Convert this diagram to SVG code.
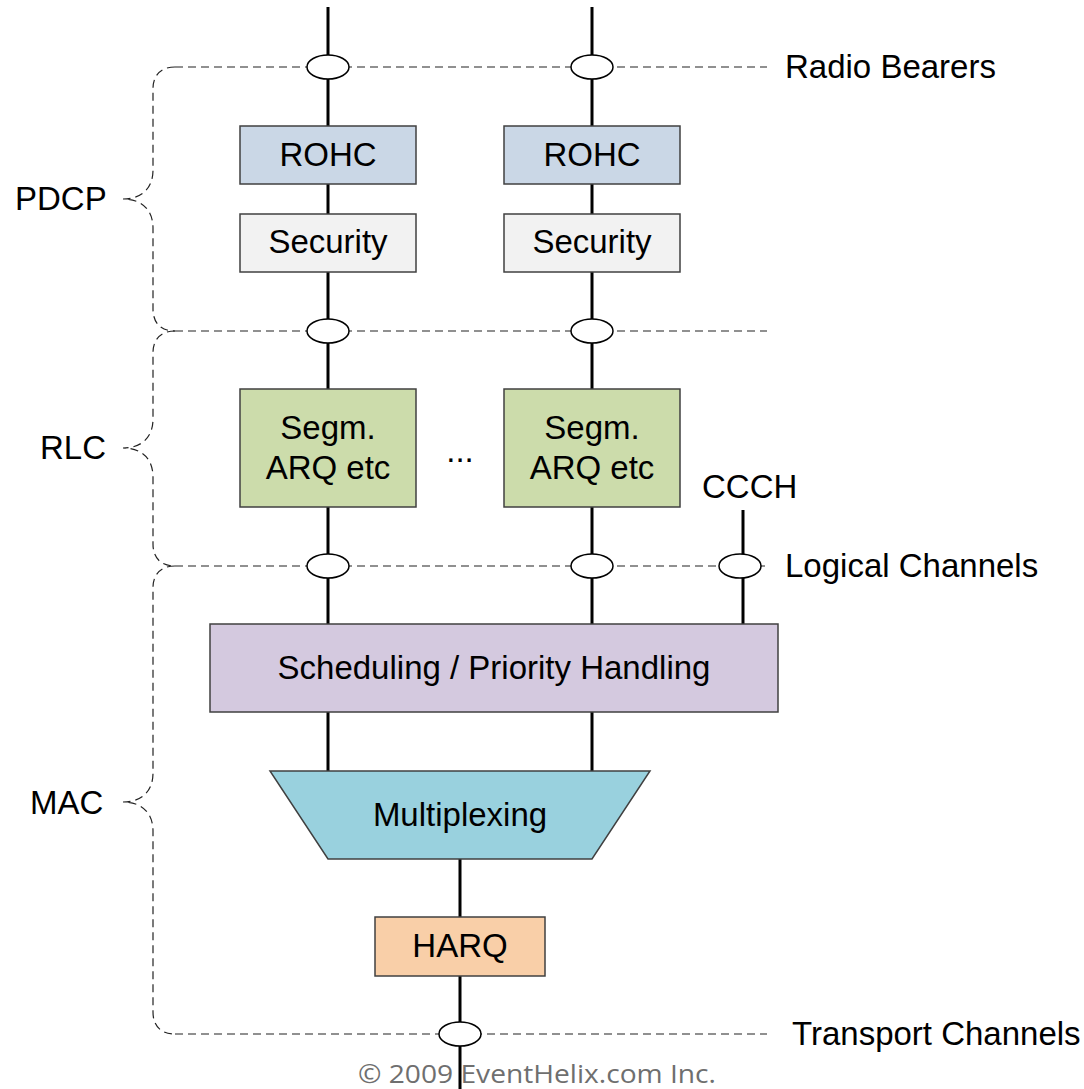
<svg xmlns="http://www.w3.org/2000/svg" width="1084" height="1089" viewBox="0 0 1084 1089">
<style>
.t{font-family:"Liberation Sans",Arial,sans-serif;font-size:33px;fill:#000}
.c{text-anchor:middle}
.box{stroke:#404040;stroke-width:1.5}
.v{stroke:#000;stroke-width:3;fill:none}
.d{stroke:#222;stroke-width:1.2;stroke-dasharray:8,5;fill:none}
.e{fill:#fff;stroke:#000;stroke-width:1.5}
</style>
<rect width="1084" height="1089" fill="#fff"/>
<g id="connectors">
<path class="v" d="M328 7V126M328 184V214M328 272V389M328 507V624M328 712V771"/>
<path class="v" d="M592 7V126M592 184V214M592 272V389M592 507V624M592 712V771"/>
<path class="v" d="M743 510V624"/>
<path class="v" d="M460 859V917M460 976V1089"/>
<path class="d" d="M175 67H767M175 331H767M175 566H765M175 1034H767"/>
<path class="d" d="M175 67C162 67 153 74 153 89V170C153 188 142 199 123 199C142 199 153 210 153 228V309C153 324 162 331 175 331"/>
<path class="d" d="M175 331C162 331 153 338 153 353V419C153 437 142 448 123 448C142 448 153 459 153 477V544C153 559 162 566 175 566"/>
<path class="d" d="M175 566C162 566 153 573 153 588V773C153 791 142 802 123 802C142 802 153 813 153 831V1012C153 1027 162 1034 175 1034"/>
<ellipse class="e" cx="328" cy="67" rx="21" ry="12"/>
<ellipse class="e" cx="592" cy="67" rx="21" ry="12"/>
<ellipse class="e" cx="328" cy="331" rx="21" ry="12"/>
<ellipse class="e" cx="592" cy="331" rx="21" ry="12"/>
<ellipse class="e" cx="328" cy="566" rx="21" ry="12"/>
<ellipse class="e" cx="592" cy="566" rx="21" ry="12"/>
<ellipse class="e" cx="740" cy="566" rx="21" ry="12"/>
<ellipse class="e" cx="460" cy="1034" rx="21" ry="12"/>
</g>
<g id="rohc1"><rect class="box" x="240" y="126" width="176" height="58" fill="#cad7e6"/><text class="t c" x="328" y="166">ROHC</text></g>
<g id="rohc2"><rect class="box" x="504" y="126" width="176" height="58" fill="#cad7e6"/><text class="t c" x="592" y="166">ROHC</text></g>
<g id="sec1"><rect class="box" x="240" y="214" width="176" height="58" fill="#f2f2f2"/><text class="t c" x="328" y="253">Security</text></g>
<g id="sec2"><rect class="box" x="504" y="214" width="176" height="58" fill="#f2f2f2"/><text class="t c" x="592" y="253">Security</text></g>
<g id="segm1"><rect class="box" x="240" y="389" width="176" height="118" fill="#ccdcab"/><text class="t c" x="328" y="439">Segm.</text><text class="t c" x="328" y="479">ARQ etc</text></g>
<g id="segm2"><rect class="box" x="504" y="389" width="176" height="118" fill="#ccdcab"/><text class="t c" x="592" y="439">Segm.</text><text class="t c" x="592" y="479">ARQ etc</text></g>
<g id="dots"><text class="t c" x="460" y="462">...</text></g>
<g id="sched"><rect class="box" x="210" y="624" width="568" height="88" fill="#d4c9df"/><text class="t c" x="494" y="679">Scheduling / Priority Handling</text></g>
<g id="mux"><polygon class="box" points="270,771 650,771 592,859 328,859" fill="#99d1de"/><text class="t c" x="460" y="826">Multiplexing</text></g>
<g id="harq"><rect class="box" x="375" y="917" width="170" height="59" fill="#f9cfa8"/><text class="t c" x="460" y="957">HARQ</text></g>
<g id="labels">
<text class="t" x="785" y="78">Radio Bearers</text>
<text class="t" x="15" y="210">PDCP</text>
<text class="t" x="40" y="459">RLC</text>
<text class="t" x="702" y="498">CCCH</text>
<text class="t" x="785" y="577">Logical Channels</text>
<text class="t" x="30" y="814">MAC</text>
<text class="t" x="792" y="1045">Transport Channels</text>
<text x="358" y="1083" font-family="'Open Sans',sans-serif" font-size="26" fill="#6f6f6f" textLength="358" lengthAdjust="spacingAndGlyphs">© 2009 EventHelix.com Inc.</text>
</g>
</svg>
